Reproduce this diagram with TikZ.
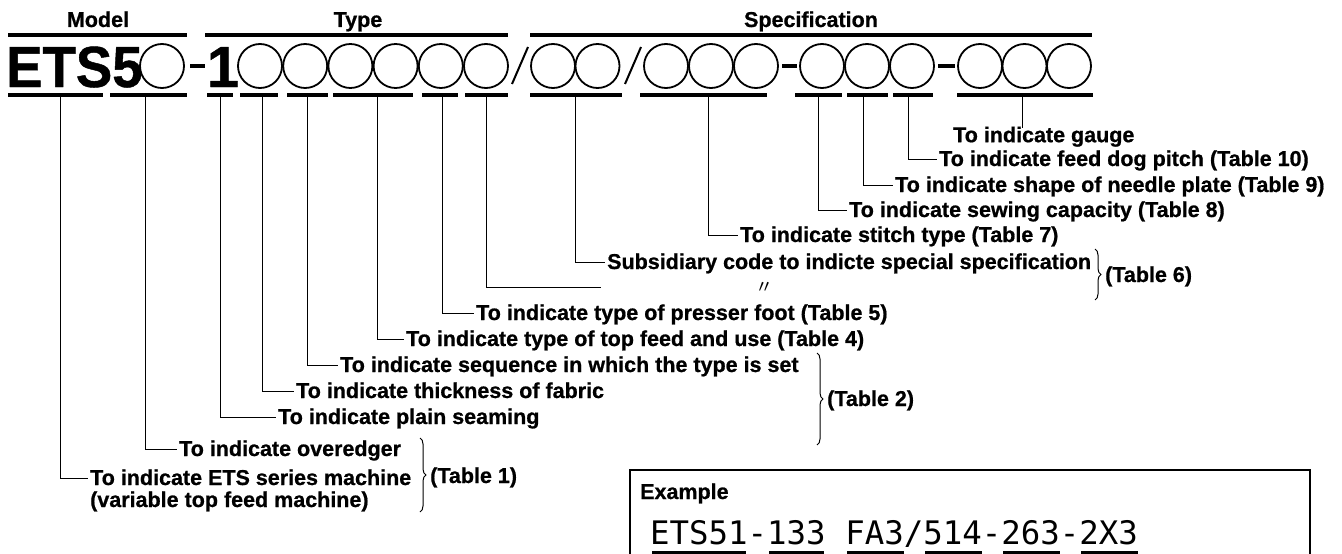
\documentclass[tikz,border=0pt]{standalone}
\usepackage{fontspec}
\usepackage{graphicx}
\setmainfont{Liberation Sans}[BoldFeatures={FakeBold=0.8}]
\newfontfamily\codefont{DejaVu Sans Mono}
\newfontfamily\cjkfont{Noto Sans CJK JP}
\usetikzlibrary{decorations.pathreplacing}
\tikzset{
  lab/.style={font=\fontsize{21.5}{21.5}\selectfont\bfseries, anchor=west, inner xsep=2pt, inner ysep=0pt, text height=14pt, text depth=0pt},
  hdr/.style={font=\fontsize{21.5}{21.5}\selectfont\bfseries, inner sep=0pt, anchor=base},
  big/.style={font=\fontsize{58}{58}\selectfont\bfseries, inner sep=0pt, anchor=base west},
  circ/.style={circle, draw, line width=1.8pt, minimum size=44pt, inner sep=0pt},
  bar/.style={line width=4pt},
  dashbar/.style={line width=4.5pt},
  slash/.style={line width=2pt},
  conn/.style={line width=1pt},
  brc/.style={decorate, decoration={brace, amplitude=6pt}, line width=1pt},
  ul/.style={line width=3.5pt},
}
\begin{document}
\begin{tikzpicture}[x=1pt,y=-1pt]
\useasboundingbox (0,0) rectangle (1342,554);
% headers
\node[hdr] (hmodel) at (98,27) {Model};
\node[hdr] (htype) at (358,27) {Type};
\node[hdr] (hspec) at (811,27) {Specification};
% over bars
\draw[bar] (8,35) -- (187,35);
\draw[bar] (205,35) -- (508,35);
\draw[bar] (530,35) -- (1092,35);
% big code
\node[big] (ets) at (6,87) {\scalebox{0.94}[1]{ETS5}};
\node[circ] (c0) at (162,66) {};
\draw[dashbar] (190,66) -- (205,66);
\node[big, anchor=base] (one) at (223,87) {1};
\foreach \i/\x in {1/260,2/305.2,3/350.4,4/395.6,5/440.8,6/486}{
  \node[circ] (t\i) at (\x,66) {};
}
\draw[slash] (512,84) -- (528,47);
\node[circ] (s1) at (553,66) {};
\node[circ] (s2) at (597.5,66) {};
\draw[slash] (625,84) -- (641,47);
\node[circ] (s3) at (666,66) {};
\node[circ] (s4) at (711,66) {};
\node[circ] (s5) at (756,66) {};
\draw[dashbar] (782,66) -- (797,66);
\node[circ] (s6) at (822,66) {};
\node[circ] (s7) at (867,66) {};
\node[circ] (s8) at (912,66) {};
\draw[dashbar] (938,66) -- (955,66);
\node[circ] (s9) at (980,66) {};
\node[circ] (s10) at (1024.5,66) {};
\node[circ] (s11) at (1069,66) {};
% under bars
\foreach \a/\b in {8/103,110/187,207/233,240/278,287/328,333/413,422/458,465/508,530/622,640/767,795/842,847/888,893/933,957/1093}{
  \draw[bar] (\a,95) -- (\b,95);
}
% tick coordinates
\foreach \n/\x in {1/60,2/145,3/220,4/262,5/307,6/377,7/442,8/486,9/575,10/708,11/818,12/863,13/908,14/1022}{
  \coordinate (u\n) at (\x,97);
}
% labels
\node[lab] (l1) at (88,478) {To indicate ETS series machine};
\node[lab] (l1b) at (88,500) {(variable top feed machine)};
\node[lab] (l2) at (177,449) {To indicate overedger};
\node[lab] (l3) at (276,417) {To indicate plain seaming};
\node[lab] (l4) at (294,391) {To indicate thickness of fabric};
\node[lab] (l5) at (338,365) {To indicate sequence in which the type is set};
\node[lab] (l6) at (404,339) {To indicate type of top feed and use (Table 4)};
\node[lab] (l7) at (474,313) {To indicate type of presser foot (Table 5)};
\coordinate (l8) at (601,287);
\node[lab] (l9) at (605,262) {Subsidiary code to indicte special specification};
\node[lab] (l10) at (738,235) {To indicate stitch type (Table 7)};
\node[lab] (l11) at (847,210) {To indicate sewing capacity (Table 8)};
\node[lab] (l12) at (893,185) {To indicate shape of needle plate (Table 9)};
\node[lab] (l13) at (937,159) {To indicate feed dog pitch (Table 10)};
\node[lab, anchor=north west] (l14) at (951,128) {To indicate gauge};
\node[font=\cjkfont\fontsize{18}{18}\selectfont, inner sep=0pt, text height=8pt, text depth=0pt] (ditto) at (764,289) {〃};
% connectors
\foreach \n in {1,2,3,4,5,6,7,9,10,11,12,13}{
  \draw[conn] (u\n) |- (l\n.west);
}
\draw[conn] (u8) |- (l8);
\draw[conn] (u14) -- (u14 |- l14.north);
% braces and tables
\draw[brc] (1095,249) -- (1095,300);
\node[lab] (tab6) at (1103,275) {(Table 6)};
\draw[brc] (817,353) -- (817,445);
\node[lab] (tab2) at (825,399) {(Table 2)};
\draw[brc] (420,438) -- (420,512);
\node[lab] (tab1) at (428,476) {(Table 1)};
% example box
\draw[line width=1.5pt] (630,554) -- (630,470) -- (1310,470) -- (1310,554);
\node[lab] (exlab) at (638,492) {Example};
\node[font=\codefont\fontsize{32.4}{32.4}\selectfont, inner sep=0pt, anchor=base west] (code) at (650,544) {ETS51-133 FA3/514-263-2X3};
\foreach \a/\b in {652/745.5,769/823.5,847/903.5,925/981.5,1003/1059.5,1081/1137.5}{
  \draw[ul] (\a,553) -- (\b,553);
}
\end{tikzpicture}
\end{document}
